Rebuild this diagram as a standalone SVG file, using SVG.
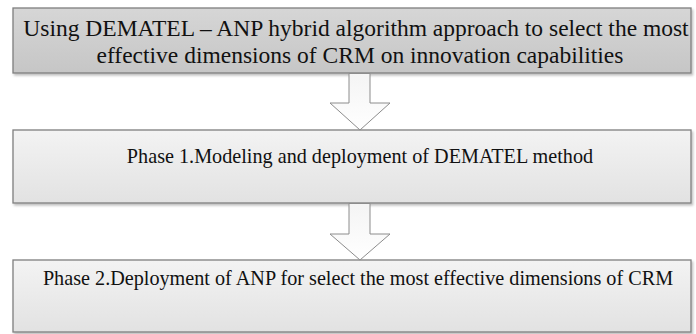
<svg xmlns="http://www.w3.org/2000/svg" width="696" height="334" viewBox="0 0 696 334">
<style>
.box{stroke:#7f7f7f;stroke-width:1.3}
.t{font-family:"Liberation Serif","Times New Roman",serif;fill:#111;text-anchor:middle}
.top{font-size:23.5px}
.ph{font-size:20.2px}
.arr{fill:url(#ga);stroke:#8c8c8c;stroke-width:1}
</style>
<defs>
<linearGradient id="g1" x1="0" y1="0" x2="0" y2="1">
<stop offset="0" stop-color="#d6d6d6"/><stop offset="1" stop-color="#c6c6c6"/>
</linearGradient>
<linearGradient id="g2" x1="0" y1="0" x2="0" y2="1">
<stop offset="0" stop-color="#f3f3f3"/><stop offset="1" stop-color="#e2e2e2"/>
</linearGradient>
<linearGradient id="ga" x1="0" y1="0" x2="0" y2="1">
<stop offset="0" stop-color="#f4f4f4"/><stop offset="1" stop-color="#ffffff"/>
</linearGradient>
<filter id="sh" x="-5%" y="-20%" width="110%" height="140%">
<feDropShadow dx="1.5" dy="2" stdDeviation="1" flood-color="#000" flood-opacity="0.25"/>
</filter>
</defs>
<g id="node-top">
<rect class="box" x="13" y="8" width="678" height="65" fill="url(#g1)" filter="url(#sh)"/>
<text class="t top" x="356" y="36">Using DEMATEL – ANP hybrid algorithm approach to select the most</text>
<text class="t top" x="360" y="63">effective dimensions of CRM on innovation capabilities</text>
</g>
<g id="node-phase1">
<rect class="box" x="13" y="130" width="678" height="73" fill="url(#g2)" filter="url(#sh)"/>
<text class="t ph" x="360" y="163">Phase 1.Modeling and deployment of DEMATEL method</text>
</g>
<g id="node-phase2">
<rect class="box" x="13" y="260" width="678" height="72" fill="url(#g2)" filter="url(#sh)"/>
<text class="t ph" x="358" y="285">Phase 2.Deployment of ANP for select the most effective dimensions of CRM</text>
</g>
<g id="connectors">
<path class="arr" d="M349,73.5 L370,73.5 L370,103 L390,103 L360,130 L330,103 L349,103 Z"/>
<path class="arr" d="M349,203.5 L370,203.5 L370,234 L390,234 L360,260 L330,234 L349,234 Z"/>
</g>
</svg>
